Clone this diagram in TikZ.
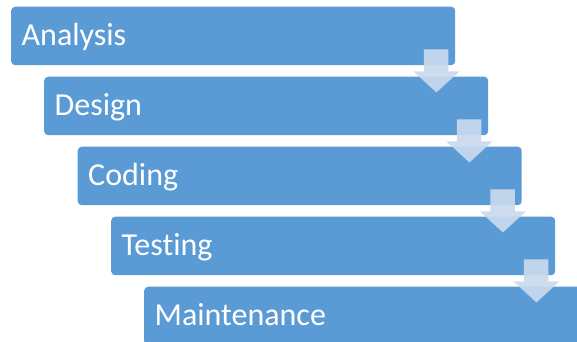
\documentclass[tikz,border=0pt]{standalone}
\usepackage{fontspec}
\setmainfont{Carlito}[Ligatures=NoCommon]
\usetikzlibrary{calc}
\definecolor{boxblue}{HTML}{5B9BD5}
\definecolor{arrowblue}{HTML}{C9D9EE}
\tikzset{
  stage/.style={fill=boxblue, draw=none, rounded corners=4pt, anchor=north west,
    minimum height=58.5pt, inner xsep=10.5pt, inner ysep=0pt,
    text width=423pt, align=left, text height=20pt, text depth=0pt,
    text=white, font=\fontsize{32}{38}\selectfont},
  blockarrow/.style={fill=arrowblue, fill opacity=0.92, draw=none}
}
\newcommand{\stagearrow}[1]{%
  \fill[blockarrow]
    ($(#1.south east)+(-31.5,-16)$) -- ($(#1.south east)+(-7,-16)$) --
    ($(#1.south east)+(-7,6)$) -- ($(#1.south east)+(4,6)$) --
    ($(#1.south east)+(-19,27)$) -- ($(#1.south east)+(-42,6)$) --
    ($(#1.south east)+(-31.5,6)$) -- cycle;}
\begin{document}
\begin{tikzpicture}[x=1pt,y=-1pt]
  \useasboundingbox (0,0) rectangle (577,341);
  \clip (0,0) rectangle (577,341);
  \node[stage] (b1) at (11,6.5) {Analysis};
  \node[stage] (b2) at (44,76.5) {Design};
  \node[stage] (b3) at (77.5,146.5) {Coding};
  \node[stage] (b4) at (111,216.5) {Testing};
  \node[stage] (b5) at (144,286.5) {Maintenance};
  \stagearrow{b1}
  \stagearrow{b2}
  \stagearrow{b3}
  \stagearrow{b4}
\end{tikzpicture}
\end{document}
